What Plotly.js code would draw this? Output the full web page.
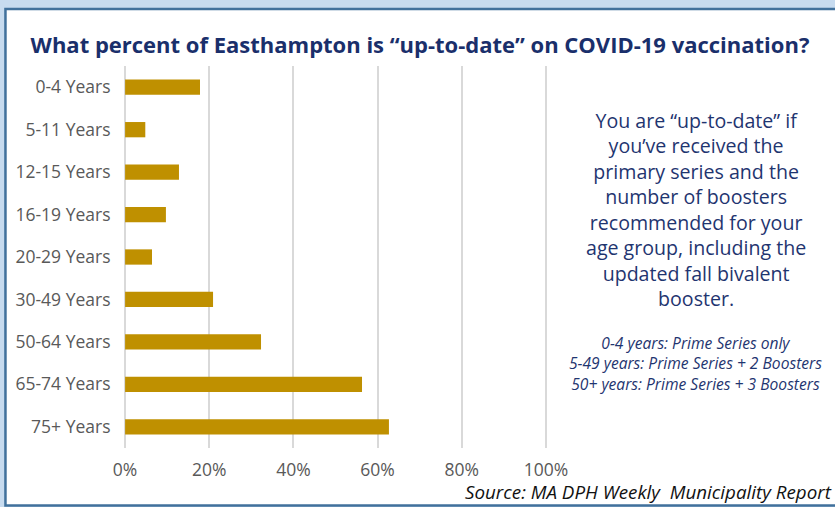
<!DOCTYPE html>
<html>
<head>
<meta charset="utf-8">
<script src="https://cdn.plot.ly/plotly-3.0.1.min.js"></script>
<style>html,body{margin:0;padding:0;background:#fff;}#chart{width:835px;height:507px;}</style>
</head>
<body>
<div id="chart"></div>
<script>
const categories = ["0-4 Years","5-11 Years","12-15 Years","16-19 Years","20-29 Years","30-49 Years","50-64 Years","65-74 Years","75+ Years"];
const upToDatePct = [17.8, 4.8, 12.8, 9.7, 6.4, 20.9, 32.3, 56.3, 62.7];
const xTickValues = [0, 20, 40, 60, 80, 100];
const xTickLabels = ["0%","20%","40%","60%","80%","100%"];
const titleText = "What percent of Easthampton is “up-to-date” on COVID-19 vaccination?";
const noteLines = ["You are “up-to-date” if","you’ve received the","primary series and the","number of boosters","recommended for your","age group, including the","updated fall bivalent","booster."];
const scheduleLines = ["0-4 years: Prime Series only","5-49 years: Prime Series + 2 Boosters","50+ years: Prime Series + 3 Boosters"];
const sourceText = "Source: MA DPH Weekly  Municipality Report";

const FONT = "'Open Sans', 'Noto Sans', sans-serif";
const W = 835, H = 507;
const X0 = 125, X100 = 546, PAD = 0.5;
const unit = (X100 - X0) / 100;
const L = X0 - PAD * unit, R = W - (X100 + PAD * unit), T = 66, B = 59;
const pw = W - L - R, ph = H - T - B;
const px = v => (v - L) / pw;
const py = v => (H - B - v) / ph;

const annotations = [
  {text: noteLines.join("<br>"), xref: "paper", yref: "paper", x: px(696), y: py(209.5),
   xanchor: "center", yanchor: "middle", align: "center", showarrow: false,
   font: {family: FONT, size: 19.6, color: "#1f3570"}},
  {text: scheduleLines.map(s => "<i>" + s + "</i>").join("<br>"), xref: "paper", yref: "paper", x: px(696), y: py(363.5),
   xanchor: "center", yanchor: "middle", align: "center", showarrow: false,
   font: {family: FONT, size: 15.6, color: "#1f3570"}},
  {text: "<i>" + sourceText.replace("  ", "&nbsp; ") + "</i>", xref: "paper", yref: "paper", x: px(834), y: py(492),
   xanchor: "right", yanchor: "middle", showarrow: false,
   font: {family: FONT, size: 18.8, color: "#111111"}}
];

const shapes = [
  {type: "rect", xref: "paper", yref: "paper", x0: px(5.3), x1: px(845), y0: py(9), y1: py(505.5),
   fillcolor: "#ffffff", line: {color: "#41719c", width: 2.5}, layer: "below"}
];

const trace = {
  type: "bar", orientation: "h",
  y: categories, x: upToDatePct,
  marker: {color: "#bf9000"},
  width: 0.36, hoverinfo: "skip"
};

const layout = {
  width: W, height: H,
  margin: {l: L, r: R, t: T, b: B, pad: 0},
  paper_bgcolor: "#c7dbef",
  plot_bgcolor: "rgba(0,0,0,0)",
  showlegend: false,
  title: {text: "<b>" + titleText + "</b>", xref: "container", yref: "container", x: 420 / W, y: 1 - 45 / H,
    xanchor: "center", yanchor: "middle",
    font: {family: FONT, size: 22, color: "#1a2f6b"}},
  xaxis: {range: [-PAD, 100 + PAD], tickvals: xTickValues, ticktext: xTickLabels,
    showgrid: true, gridcolor: "#d9d9d9", gridwidth: 2, zeroline: false, showline: false,
    ticks: "outside", ticklen: 6, tickcolor: "rgba(0,0,0,0)",
    tickfont: {family: FONT, size: 17.5, color: "#595959"}, fixedrange: true},
  yaxis: {type: "category", autorange: false, range: [8.5, -0.5],
    showgrid: false, zeroline: false, showline: false,
    ticks: "outside", ticklen: 8, tickcolor: "rgba(0,0,0,0)",
    tickfont: {family: FONT, size: 17.5, color: "#595959"}, fixedrange: true},
  shapes: shapes,
  annotations: annotations
};

Plotly.newPlot("chart", [trace], layout, {displayModeBar: false, staticPlot: true});
</script>
</body>
</html>
